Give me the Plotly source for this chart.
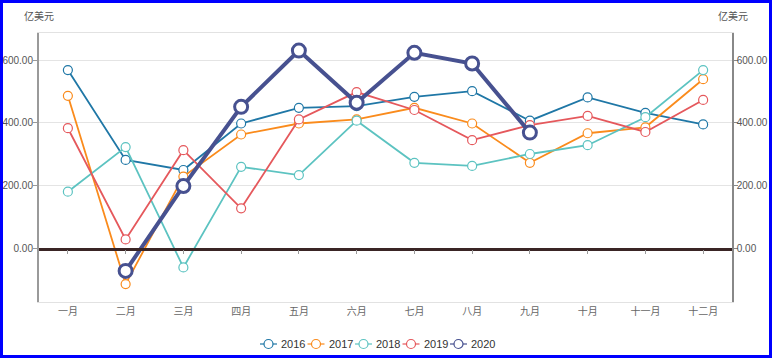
import plotly.graph_objects as go

months = ["一月", "二月", "三月", "四月", "五月", "六月", "七月", "八月", "九月", "十月", "十一月", "十二月"]
y2016 = [568, 282, 250, 398, 448, 453, 483, 501, 407, 481, 432, 395]
y2017 = [486, -113, 229, 363, 398, 411, 448, 398, 273, 367, 386, 539]
y2018 = [181, 323, -60, 260, 234, 407, 273, 263, 301, 329, 418, 568]
y2019 = [383, 29, 313, 128, 411, 498, 441, 345, 393, 422, 371, 473]
y2020 = [None, -71, 199, 451, 630, 464, 623, 589, 369, None, None, None]
series_names = ["2016", "2017", "2018", "2019", "2020"]
colors = ["#1f77a6", "#fa8b1c", "#5cc3c1", "#e5585c", "#475190"]
unit = "亿美元"
yticks = [0, 200, 400, 600]

W, H = 772, 358
ml, mr, mt, mb = 39, 40, 33, 56
pw, ph = W - ml - mr, H - mt - mb
ymin, ymax = -170, 686

fig = go.Figure()
for name, vals, col in zip(series_names, [y2016, y2017, y2018, y2019, y2020], colors):
    big = name == "2020"
    fig.add_trace(go.Scatter(
        x=months, y=vals, name=name, mode="lines+markers", showlegend=False,
        line=dict(color=col, width=4 if big else 1.8),
        marker=dict(symbol="circle", size=13 if big else 9, color="white",
                    line=dict(color=col, width=3 if big else 1.2)),
        connectgaps=False,
    ))

# invisible trace to activate right axis
fig.add_trace(go.Scatter(x=months, y=y2016, yaxis="y2", showlegend=False,
                         mode="none", hoverinfo="skip"))

zero_pos = (0 - ymin) / (ymax - ymin)
tick_font = dict(family="Liberation Sans, Arial, sans-serif", size=10, color="#555")

fig.update_layout(
    width=W, height=H,
    margin=dict(l=ml, r=mr, t=mt, b=mb, autoexpand=False),
    paper_bgcolor="white", plot_bgcolor="white",
    font=dict(family="Noto Sans CJK SC, Liberation Sans, sans-serif", size=10, color="#555"),
    xaxis=dict(type="category", categoryorder="array", categoryarray=months,
               range=[-0.5, 11.5], showgrid=False, showline=True, mirror=True,
               linecolor="#e2e2e2", linewidth=1, ticks="", zeroline=False, automargin=False,
               tickfont=dict(size=10, color="#666")),
    xaxis2=dict(overlaying="x", anchor="free", position=zero_pos, range=[-0.5, 11.5],
                tickvals=list(range(12)), showticklabels=False, ticks="outside",
                ticklen=4, tickcolor="#999", showline=True, linecolor="#3a2525",
                linewidth=2.5, showgrid=False, zeroline=False, automargin=False),
    yaxis=dict(range=[ymin, ymax], tickvals=yticks, tickformat=".2f",
               showgrid=True, gridcolor="#e4e4e4", gridwidth=1,
               showline=True, linecolor="#9a9a9a", linewidth=2,
               ticks="outside", ticklen=4, tickcolor="#9a9a9a", automargin=False,
               ticklabelstandoff=-2,
               zeroline=False, tickfont=tick_font),
    yaxis2=dict(range=[ymin, ymax], tickvals=yticks, tickformat=".2f",
                overlaying="y", side="right", showgrid=False,
                showline=True, linecolor="#888", linewidth=1.5, automargin=False,
                ticks="outside", ticklen=4, tickcolor="#888",
                ticklabelstandoff=-3,
                zeroline=False, tickfont=tick_font),
    showlegend=False,
)
# dummy trace on xaxis2 so the axis renders
fig.add_trace(go.Scatter(x=[0], y=[0], xaxis="x2", mode="none", showlegend=False, hoverinfo="skip"))

fig.add_annotation(text=unit, xref="paper", yref="paper", x=(39 - ml) / pw, y=1 + (mt - 15) / ph,
                   xanchor="center", yanchor="middle", showarrow=False,
                   font=dict(size=10, color="#555"))
fig.add_annotation(text=unit, xref="paper", yref="paper", x=(733 - ml) / pw, y=1 + (mt - 15) / ph,
                   xanchor="center", yanchor="middle", showarrow=False,
                   font=dict(size=10, color="#555"))

# compact legend drawn below the plot (symbol: short line + hollow circle, then label)
leg_y = (H - mb - 344) / ph
leg_x0, leg_pitch = 260, 47.5
for i, (name, col) in enumerate(zip(series_names, colors)):
    sx = leg_x0 + i * leg_pitch
    fig.add_shape(type="line", xref="paper", yref="paper",
                  x0=(sx - ml) / pw, x1=(sx + 17 - ml) / pw, y0=leg_y, y1=leg_y,
                  line=dict(color=col, width=1.2))
    fig.add_shape(type="circle", xref="paper", yref="paper",
                  xsizemode="pixel", ysizemode="pixel",
                  xanchor=(sx + 8.5 - ml) / pw, yanchor=leg_y,
                  x0=-4.5, x1=4.5, y0=-4.5, y1=4.5,
                  line=dict(color=col, width=1.2), fillcolor="white")
    fig.add_annotation(text=name, xref="paper", yref="paper",
                       x=(sx + 19 - ml) / pw, y=leg_y, xanchor="left", yanchor="middle",
                       showarrow=False,
                       font=dict(family="Liberation Sans, Arial, sans-serif", size=11, color="#333"))

# blue frame around the figure
b = 1.5
fig.add_shape(type="rect", xref="paper", yref="paper",
              x0=(-ml + b) / pw, x1=1 + (mr - b) / pw,
              y0=(-mb + b) / ph, y1=1 + (mt - b) / ph,
              line=dict(color="#0000ff", width=3), fillcolor="rgba(0,0,0,0)", layer="above")

fig.write_html("out.html", config={"displayModeBar": False},
               post_script="document.documentElement.style.margin='0';document.body.style.margin='0';"
                           "document.body.style.padding='0';document.body.style.overflow='hidden';")
